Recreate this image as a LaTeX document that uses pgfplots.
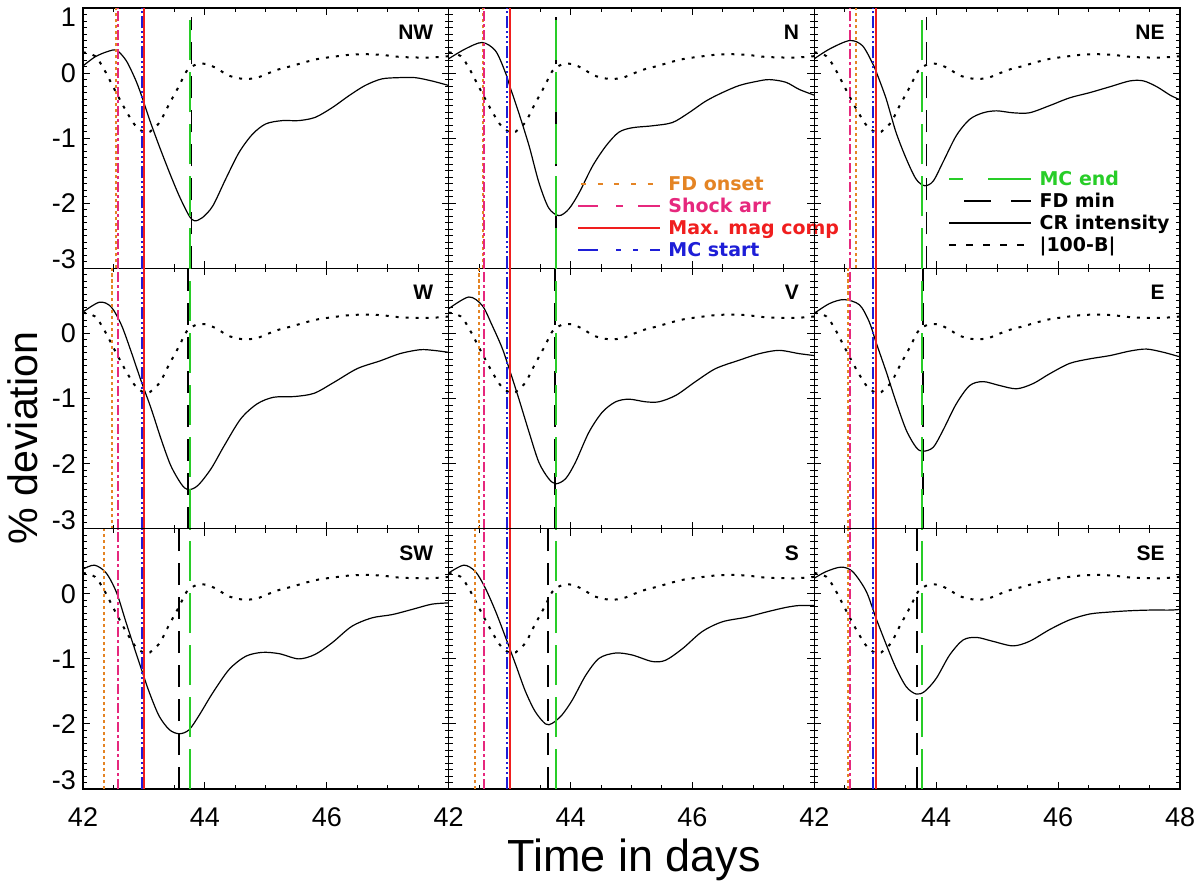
\documentclass[border=0pt]{standalone}
\usepackage{fontspec}
\setmainfont{Liberation Sans}
\newfontfamily\legfont{DejaVu Sans}
\usepackage{pgfplots}
\usepackage{pgfplotstable}
\pgfplotsset{compat=1.18}
\usepgfplotslibrary{groupplots}
\usetikzlibrary{calc}

\definecolor{fdorange}{RGB}{228,132,36}
\definecolor{pinkc}{RGB}{230,40,125}
\definecolor{redc}{RGB}{240,30,30}
\definecolor{bluec}{RGB}{30,30,215}
\definecolor{greenc}{RGB}{40,205,40}

% |100-B| (same in all panels)
\pgfplotstableread{
x y
42.0 0.32
42.2 0.26
42.35 0.05
42.5 -0.22
42.7 -0.57
42.87 -0.82
43.04 -0.92
43.15 -0.86
43.27 -0.74
43.4 -0.50
43.58 -0.19
43.7 0.03
43.85 0.13
44.02 0.14
44.2 0.07
44.37 -0.03
44.55 -0.08
44.7 -0.09
44.86 -0.07
45.02 -0.01
45.22 0.06
45.43 0.11
45.65 0.17
45.87 0.22
46.1 0.25
46.36 0.28
46.63 0.29
46.9 0.28
47.18 0.25
47.45 0.24
47.72 0.24
48.0 0.26
}\Bdat

\pgfplotstableread{
x y
42.0 0.11
42.2 0.25
42.4 0.33
42.55 0.35
42.71 0.19
42.87 -0.12
42.98 -0.40
43.09 -0.71
43.25 -1.12
43.42 -1.53
43.58 -1.89
43.74 -2.19
43.83 -2.27
43.96 -2.22
44.13 -2.04
44.34 -1.63
44.56 -1.22
44.78 -0.94
45.0 -0.78
45.27 -0.73
45.54 -0.73
45.81 -0.68
46.09 -0.53
46.36 -0.35
46.63 -0.19
46.9 -0.09
47.18 -0.07
47.45 -0.07
47.72 -0.12
48.0 -0.19
}\NWdat

\pgfplotstableread{
x y
42.0 0.22
42.27 0.37
42.55 0.47
42.77 0.34
42.93 0.01
43.01 -0.22
43.15 -0.61
43.32 -1.12
43.48 -1.68
43.64 -2.07
43.81 -2.19
43.97 -2.09
44.14 -1.84
44.36 -1.43
44.58 -1.12
44.79 -0.91
45.01 -0.84
45.34 -0.81
45.67 -0.76
45.94 -0.61
46.22 -0.43
46.49 -0.30
46.77 -0.19
47.04 -0.13
47.26 -0.10
47.53 -0.14
47.75 -0.25
48.0 -0.34
}\Ndat

\pgfplotstableread{
x y
42.0 0.22
42.25 0.37
42.58 0.50
42.79 0.42
42.96 0.14
43.04 -0.04
43.18 -0.40
43.34 -0.91
43.51 -1.32
43.67 -1.63
43.81 -1.73
43.95 -1.66
44.11 -1.37
44.33 -0.96
44.55 -0.71
44.77 -0.61
44.99 -0.58
45.26 -0.61
45.53 -0.61
45.86 -0.50
46.19 -0.38
46.52 -0.30
46.85 -0.21
47.18 -0.12
47.40 -0.12
47.62 -0.21
47.84 -0.34
48.0 -0.41
}\NEdat

\pgfplotstableread{
x y
42.0 0.33
42.27 0.48
42.46 0.41
42.63 0.13
42.79 -0.28
42.95 -0.72
43.12 -1.16
43.28 -1.62
43.44 -2.03
43.61 -2.31
43.72 -2.40
43.88 -2.34
44.10 -2.08
44.32 -1.72
44.59 -1.31
44.86 -1.08
45.13 -0.98
45.46 -0.97
45.79 -0.92
46.12 -0.75
46.5 -0.54
46.88 -0.42
47.20 -0.31
47.53 -0.25
47.75 -0.26
48.0 -0.29
}\Wdat

\pgfplotstableread{
x y
42.0 0.38
42.33 0.56
42.55 0.43
42.71 0.13
42.88 -0.23
43.01 -0.59
43.15 -1.0
43.32 -1.52
43.48 -1.98
43.64 -2.23
43.76 -2.31
43.92 -2.23
44.08 -1.98
44.30 -1.52
44.52 -1.21
44.74 -1.05
44.96 -1.01
45.23 -1.05
45.45 -1.05
45.73 -0.95
46.05 -0.74
46.38 -0.54
46.77 -0.41
47.10 -0.31
47.42 -0.26
47.75 -0.31
48.0 -0.34
}\Vdat

\pgfplotstableread{
x y
42.0 0.31
42.25 0.46
42.49 0.52
42.74 0.44
42.90 0.18
43.01 -0.13
43.18 -0.59
43.34 -1.05
43.51 -1.49
43.67 -1.75
43.78 -1.81
43.95 -1.75
44.11 -1.49
44.33 -1.08
44.55 -0.80
44.77 -0.74
45.04 -0.80
45.32 -0.85
45.59 -0.77
45.86 -0.62
46.19 -0.46
46.52 -0.39
46.85 -0.34
47.18 -0.27
47.45 -0.24
47.73 -0.29
48.0 -0.36
}\Edat

\pgfplotstableread{
x y
42.0 0.38
42.19 0.44
42.38 0.32
42.55 0.02
42.71 -0.45
42.87 -0.91
42.98 -1.22
43.09 -1.52
43.25 -1.88
43.42 -2.09
43.58 -2.15
43.74 -2.09
43.91 -1.86
44.13 -1.52
44.40 -1.16
44.67 -0.96
44.94 -0.90
45.22 -0.92
45.54 -1.0
45.81 -0.93
46.09 -0.75
46.41 -0.50
46.74 -0.37
47.07 -0.32
47.40 -0.24
47.72 -0.16
48.0 -0.14
}\SWdat

\pgfplotstableread{
x y
42.0 0.32
42.25 0.44
42.44 0.34
42.60 0.09
42.77 -0.27
42.93 -0.66
43.10 -1.09
43.26 -1.50
43.42 -1.81
43.59 -2.0
43.70 -1.99
43.86 -1.86
44.03 -1.63
44.25 -1.25
44.47 -0.99
44.74 -0.91
45.01 -0.94
45.34 -1.04
45.56 -1.02
45.84 -0.84
46.16 -0.58
46.49 -0.43
46.88 -0.36
47.21 -0.28
47.53 -0.21
47.75 -0.18
48.0 -0.18
}\Sdat

\pgfplotstableread{
x y
42.0 0.24
42.19 0.34
42.44 0.41
42.63 0.34
42.85 0.04
43.01 -0.37
43.18 -0.78
43.34 -1.14
43.51 -1.43
43.67 -1.54
43.81 -1.50
44.0 -1.30
44.22 -0.94
44.44 -0.71
44.66 -0.67
44.93 -0.73
45.26 -0.80
45.53 -0.73
45.86 -0.55
46.19 -0.40
46.52 -0.31
46.85 -0.28
47.18 -0.26
47.51 -0.25
47.84 -0.25
48.0 -0.24
}\SEdat

\pgfplotsset{
  panel/.style={
    scale only axis, width=182.83pt, height=130.17pt,
    xmin=42, xmax=48, ymin=-3, ymax=1,
    xtick={42,44,46,48}, minor x tick num=3,
    ytick={-3,-2,-1,0,1}, minor y tick num=9,
    tick align=inside, major tick length=3.5pt, minor tick length=2pt,
    every tick/.style={black, line width=0.5pt},
    axis line style={line width=0.6pt},
    xticklabels={}, yticklabels={},
    ticklabel style={font=\fontsize{13.5}{15}\selectfont},
    xticklabel style={yshift=-6pt},
    /pgf/number format/assume math mode=true,
    legend cell align=left,
  },
  ylabtop/.style={yticklabels={\raisebox{4.5pt}[\height][0pt]{-3},-2,-1,0,\raisebox{-4.5pt}[\height][0pt]{1}}},
  ylab/.style={yticklabels={\raisebox{4.5pt}[\height][0pt]{-3},-2,-1,0,{}}},
  xlab/.style={xticklabels={42,44,46,{}}},
  xlablast/.style={xticklabels={42,44,46,48}},
  crline/.style={black, line width=0.6pt, smooth, tension=0.5},
  bline/.style={black, line width=1pt, dash pattern=on 1.5pt off 3.5pt, smooth, tension=0.5},
  fdon/.style={fdorange, line width=1pt, dash pattern=on 1.6pt off 1.4pt},
  shock/.style={pinkc, line width=1pt, dash pattern=on 5pt off 1.5pt on 1.5pt off 1.5pt},
  mcst/.style={bluec, line width=1pt, dash pattern=on 6pt off 1.5pt on 1pt off 1.5pt on 1pt off 1.5pt on 1pt off 1.5pt},
  maxm/.style={redc, line width=1pt},
  fdminst/.style={black, line width=0.9pt, dash pattern=on 11pt off 6pt},
  mcendst/.style={greenc, line width=0.9pt, dash pattern=on 20pt off 6pt},
  leg/.style={legend style={draw=none, fill=none, inner sep=0pt, outer sep=0pt,
      anchor=north west, font=\legfont\bfseries\fontsize{9.5}{11}\selectfont,
      nodes={inner sep=0pt, text height=7.5pt, text depth=1.5pt},
      row sep=2pt, column sep=3.5pt}},
}

\newcommand{\vlines}[3]{%
  \addplot[fdon, forget plot] coordinates {(#1,-3) (#1,1)};
  \addplot[shock, forget plot] coordinates {(42.58,-3) (42.58,1)};
  \addplot[mcst, forget plot] coordinates {(42.96,-3) (42.96,1)};
  \addplot[maxm, forget plot] coordinates {(43.005,-3) (43.005,1)};
  \addplot[fdminst, forget plot] coordinates {(#2,-3) (#2,#3)};
  \addplot[mcendst, forget plot] coordinates {(43.76,-3) (43.76,#3)};
}
\newcommand{\curves}[1]{%
  \addplot[crline, forget plot] table[x=x,y=y] {#1};
  \addplot[bline, forget plot] table[x=x,y=y] {\Bdat};
}
\newcommand{\plab}[1]{\node[anchor=east, inner sep=0pt, font=\bfseries\fontsize{10.5}{12}\selectfont] at (rel axis cs:0.959,0.907) {#1};}

\begin{document}
\begin{tikzpicture}
\begin{groupplot}[group style={group size=3 by 3, horizontal sep=0pt, vertical sep=0pt}, panel]
% row 1
\nextgroupplot[ylabtop]
\curves{\NWdat}
\vlines{42.54}{43.78}{0.86}
\plab{NW}

\nextgroupplot[leg, legend style={at={(axis description cs:0.351,0.3575)}}]
\curves{\Ndat}
\vlines{42.57}{43.76}{0.86}
\plab{N}
\addlegendimage{legend image code/.code={\draw[fdorange, line width=1.2pt, dash pattern=on 2.5pt off 5.8pt] (1.5pt,0pt) -- (41pt,0pt);}}
\addlegendentry[text=fdorange]{FD onset}
\addlegendimage{legend image code/.code={\draw[pinkc, line width=1.2pt] (0pt,0pt) -- (10pt,0pt) (19pt,0pt) -- (22.5pt,0pt) (30pt,0pt) -- (41pt,0pt);}}
\addlegendentry[text=pinkc]{Shock arr}
\addlegendimage{legend image code/.code={\draw[redc, line width=1.2pt] (0pt,0pt) -- (41pt,0pt);}}
\addlegendentry[text=redc]{Max. mag comp}
\addlegendimage{legend image code/.code={\draw[bluec, line width=1.2pt] (0pt,0pt) -- (10pt,0pt) (19pt,0pt) -- (21.5pt,0pt) (27.5pt,0pt) -- (30pt,0pt) (36pt,0pt) -- (41pt,0pt);}}
\addlegendentry[text=bluec]{MC start}

\nextgroupplot[leg, legend style={at={(axis description cs:0.366,0.3775)}}]
\curves{\NEdat}
\vlines{42.68}{43.84}{0.86}
\plab{NE}
\addlegendimage{legend image code/.code={\draw[greenc, line width=1.2pt] (0pt,0pt) -- (7pt,0pt) (19.5pt,0pt) -- (41pt,0pt);}}
\addlegendentry[text=greenc]{MC end}
\addlegendimage{legend image code/.code={\draw[black, line width=1.2pt] (7.5pt,0pt) -- (21pt,0pt) (31pt,0pt) -- (41pt,0pt);}}
\addlegendentry{FD min}
\addlegendimage{legend image code/.code={\draw[black, line width=1.2pt] (0pt,0pt) -- (41pt,0pt);}}
\addlegendentry{CR intensity}
\addlegendimage{legend image code/.code={\draw[black, line width=1.2pt, dash pattern=on 3.5pt off 5pt] (0pt,0pt) -- (41pt,0pt);}}
\addlegendentry{|100-B|}

% row 2
\nextgroupplot[ylab]
\curves{\Wdat}
\vlines{42.48}{43.72}{1}
\plab{W}

\nextgroupplot
\curves{\Vdat}
\vlines{42.49}{43.75}{1}
\plab{V}

\nextgroupplot
\curves{\Edat}
\vlines{42.56}{43.78}{1}
\plab{E}

% row 3
\nextgroupplot[ylab, xlab]
\curves{\SWdat}
\vlines{42.35}{43.58}{1}
\plab{SW}

\nextgroupplot[xlab]
\curves{\Sdat}
\vlines{42.43}{43.63}{1}
\plab{S}

\nextgroupplot[xlablast]
\curves{\SEdat}
\vlines{42.55}{43.68}{1}
\plab{SE}
\end{groupplot}

\node[anchor=base, font=\fontsize{22.5}{26}\selectfont] at ($(group c1r3.south west)+(275.5pt,-41pt)$) {Time in days};
\node[anchor=base, rotate=90, font=\fontsize{20.6}{24}\selectfont] at ($(group c1r1.north west)+(-23pt,-215pt)$) {\% deviation};

\pgfresetboundingbox
\path ($(group c1r1.north west)+(-41.5pt,4pt)$) rectangle ($(group c3r3.south east)+(10pt,-47pt)$);
\end{tikzpicture}
\end{document}
